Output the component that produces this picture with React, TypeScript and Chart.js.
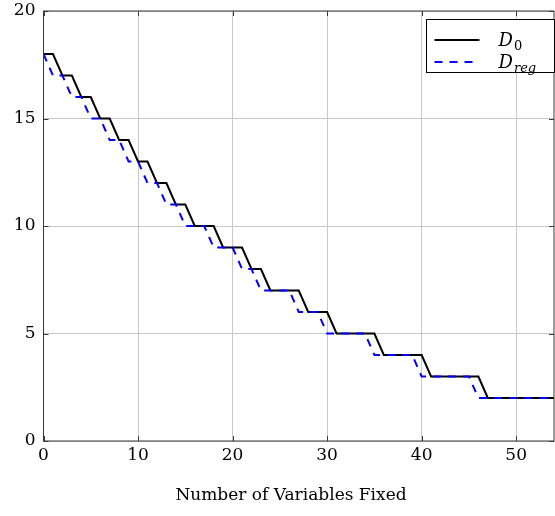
import React, { useEffect, useRef } from "react";
import { Chart, registerables } from "chart.js";

Chart.register(...registerables);

const xValues = [
  0, 1, 2, 3, 4, 5, 6, 7, 8, 9, 10, 11, 12, 13, 14, 15, 16, 17, 18, 19, 20, 21, 22, 23, 24, 25, 26,
  27, 28, 29, 30, 31, 32, 33, 34, 35, 36, 37, 38, 39, 40, 41, 42, 43, 44, 45, 46, 47, 48, 49, 50,
  51, 52, 53, 54,
];
const d0Values = [
  18, 18, 17, 17, 16, 16, 15, 15, 14, 14, 13, 13, 12, 12, 11, 11, 10, 10, 10, 9, 9, 9, 8, 8, 7, 7, 7,
  7, 6, 6, 6, 5, 5, 5, 5, 5, 4, 4, 4, 4, 4, 3, 3, 3, 3, 3, 3, 2, 2, 2, 2, 2, 2, 2, 2,
];
const dregValues = [
  18, 17, 17, 16, 16, 15, 15, 14, 14, 13, 13, 12, 12, 11, 11, 10, 10, 10, 9, 9, 9, 8, 8, 7, 7, 7, 7,
  6, 6, 6, 5, 5, 5, 5, 5, 4, 4, 4, 4, 4, 3, 3, 3, 3, 3, 3, 2, 2, 2, 2, 2, 2, 2, 2, 2,
];
const xTicks = [0, 10, 20, 30, 40, 50];
const yTicks = [0, 5, 10, 15, 20];
const xTitle = "Number of Variables Fixed";
const legendEntries = [
  { main: "D", sub: "0" },
  { main: "D", sub: "reg" },
];

const SERIF = "'DejaVu Serif', serif";
const DASH = [8, 7];

const framePlugin = {
  id: "frame",
  afterDatasetsDraw(chart: any) {
    const { ctx, chartArea } = chart;
    const { left, right, top, bottom } = chartArea;
    const xs = chart.scales.x;
    const ys = chart.scales.y;
    ctx.save();
    ctx.strokeStyle = "#3a3a3a";
    ctx.lineWidth = 1;
    ctx.beginPath();
    xTicks.forEach((v) => {
      const px = Math.round(xs.getPixelForValue(v)) + 0.5;
      ctx.moveTo(px, bottom);
      ctx.lineTo(px, bottom - 5);
      ctx.moveTo(px, top);
      ctx.lineTo(px, top + 5);
    });
    yTicks.forEach((v) => {
      const py = Math.round(ys.getPixelForValue(v)) + 0.5;
      ctx.moveTo(left, py);
      ctx.lineTo(left + 5, py);
      ctx.moveTo(right, py);
      ctx.lineTo(right - 5, py);
    });
    ctx.stroke();
    ctx.strokeRect(left, top, right - left, bottom - top);

    // axis title
    ctx.fillStyle = "#000000";
    ctx.font = "17px " + SERIF;
    ctx.textAlign = "center";
    ctx.textBaseline = "middle";
    ctx.fillText(xTitle, 291, 496);

    // legend
    const bx = 426.5;
    const by = 19.5;
    const bw = 128;
    const bh = 53;
    ctx.fillStyle = "#ffffff";
    ctx.fillRect(bx, by, bw, bh);
    ctx.strokeStyle = "#000000";
    ctx.strokeRect(bx, by, bw, bh);
    const rows = [
      { color: "#000000", dash: [] as number[] },
      { color: "#0000ff", dash: DASH },
    ];
    legendEntries.forEach((e, i) => {
      const cy = by + 20.5 + i * 22;
      ctx.beginPath();
      ctx.setLineDash(rows[i].dash);
      ctx.strokeStyle = rows[i].color;
      ctx.lineWidth = 2;
      ctx.moveTo(bx + 8, cy);
      ctx.lineTo(bx + 53, cy);
      ctx.stroke();
      ctx.setLineDash([]);
      ctx.fillStyle = "#000000";
      ctx.textBaseline = "alphabetic";
      ctx.textAlign = "left";
      ctx.font = "italic 18px " + SERIF;
      const tx = bx + 72;
      ctx.fillText(e.main, tx, cy + 6);
      const w = ctx.measureText(e.main).width;
      ctx.font = (i === 1 ? "italic " : "") + "13px " + SERIF;
      ctx.fillText(e.sub, tx + w + 1, cy + 10);
    });
    ctx.restore();
  },
};

export default function App() {
  const ref = useRef<HTMLCanvasElement | null>(null);
  useEffect(() => {
    if (!ref.current) return;
    const chart = new Chart(ref.current, {
      type: "line",
      data: {
        datasets: [
          {
            label: "D0",
            data: xValues.map((x, i) => ({ x, y: d0Values[i] })),
            borderColor: "#000000",
            borderWidth: 2,
            pointRadius: 0,
            fill: false,
            order: 1,
          },
          {
            label: "Dreg",
            data: xValues.map((x, i) => ({ x, y: dregValues[i] })),
            borderColor: "#0000ff",
            borderWidth: 2,
            borderDash: DASH,
            pointRadius: 0,
            fill: false,
            order: 0,
          },
        ],
      },
      options: {
        animation: false,
        responsive: false,
        layout: { padding: { top: 11, right: 1, left: 0, bottom: 0 } },
        plugins: { legend: { display: false }, tooltip: { enabled: false } },
        scales: {
          x: {
            type: "linear",
            min: 0,
            max: 54,
            afterFit: (s: any) => {
              s.height = 75;
              s.paddingLeft = 0;
              s.paddingRight = 0;
            },
            afterBuildTicks: (s: any) => {
              s.ticks = xTicks.map((v) => ({ value: v }));
            },
            ticks: {
              color: "#000",
              font: { family: SERIF, size: 17 },
              padding: 4,
              maxRotation: 0,
            },
            grid: { color: "#c8c8c8", drawTicks: false, lineWidth: 1 },
            border: { display: false },
          },
          y: {
            type: "linear",
            min: 0,
            max: 20,
            afterFit: (s: any) => {
              s.width = 43.5;
              s.paddingTop = 0;
              s.paddingBottom = 0;
            },
            afterBuildTicks: (s: any) => {
              s.ticks = yTicks.map((v) => ({ value: v }));
            },
            ticks: {
              color: "#000",
              font: { family: SERIF, size: 17 },
              padding: 8,
            },
            grid: { color: "#c8c8c8", drawTicks: false, lineWidth: 1 },
            border: { display: false },
          },
        },
      },
      plugins: [framePlugin],
    });
    return () => chart.destroy();
  }, []);
  return (
    <div style={{ position: "absolute", left: 0, top: 0, width: 555, height: 516, background: "#fff" }}>
      <canvas ref={ref} width={555} height={516} style={{ width: 555, height: 516 }} />
    </div>
  );
}
